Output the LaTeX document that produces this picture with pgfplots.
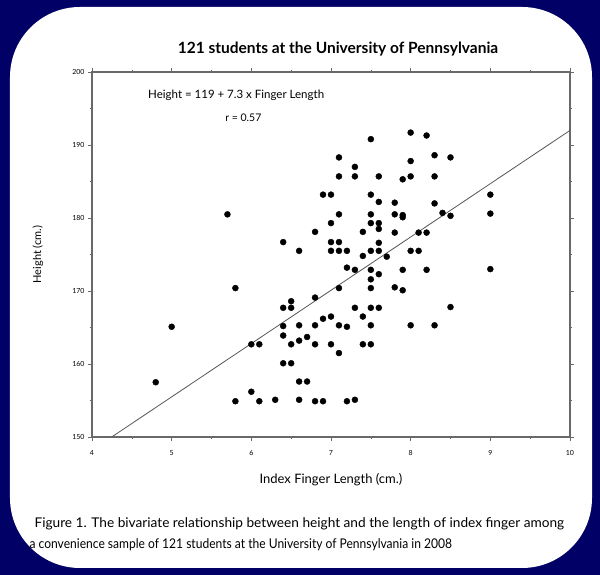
\documentclass[border=0pt]{standalone}
\usepackage{pgfplots}
\pgfplotsset{compat=1.18}
\usetikzlibrary{calc}
\usepackage{fontspec}
\setmainfont{Lato}
\definecolor{navy}{RGB}{0,0,102}
\definecolor{axisgray}{RGB}{105,105,105}
\definecolor{fitgray}{RGB}{85,85,85}
\pgfdeclarelayer{bg}
\pgfsetlayers{bg,main}

% finger length (cm) vs height (cm)
\pgfplotstableread{
x y
8.0 191.7
8.2 191.3
7.5 190.8
7.1 188.3
8.3 188.6
8.5 188.3
7.3 187.0
8.0 187.8
7.1 185.7
7.3 185.7
7.6 185.7
7.9 185.3
8.0 185.7
8.3 185.7
6.9 183.2
7.0 183.2
7.5 183.2
7.6 182.2
7.8 182.1
8.3 182.0
9.0 183.2
9.0 180.6
7.1 180.5
7.5 180.5
7.8 180.5
7.9 180.4
7.9 180.1
8.4 180.7
8.5 180.3
7.0 179.3
7.5 179.3
7.6 179.3
7.6 178.5
6.8 178.1
7.4 178.1
7.8 178.0
8.1 178.0
8.2 178.0
7.0 176.7
7.1 176.7
7.6 176.6
6.6 175.5
7.0 175.5
7.1 175.5
7.2 175.5
7.5 175.5
7.6 175.5
8.0 175.5
8.1 175.5
7.4 174.8
7.7 174.7
7.2 173.2
7.3 172.9
7.5 172.9
7.6 172.3
7.9 172.9
8.2 172.9
9.0 173.0
7.5 171.6
7.1 170.4
7.5 170.4
7.8 170.5
7.9 170.1
6.8 169.1
7.3 167.7
7.5 167.7
7.6 167.7
8.5 167.8
6.9 166.2
7.0 166.5
7.4 166.5
6.6 165.3
6.8 165.3
7.1 165.3
7.2 165.1
7.5 165.3
8.0 165.3
8.3 165.3
6.6 163.2
6.7 163.7
6.8 162.7
7.0 162.7
7.4 162.7
7.5 162.7
7.1 161.5
6.6 157.6
6.7 157.6
6.6 155.1
6.8 154.9
6.9 154.9
7.2 154.9
7.3 155.1
5.8 170.4
5.0 165.1
4.8 157.5
6.4 167.7
6.5 167.7
6.5 168.6
6.4 165.2
6.4 163.9
6.0 162.7
6.1 162.7
6.5 162.7
6.4 160.1
6.5 160.1
6.0 156.2
5.8 154.9
6.1 154.9
6.3 155.1
5.7 180.5
6.4 176.7
}\fingerdata

\begin{document}
\begin{tikzpicture}[x=1pt,y=1pt]
\begin{axis}[
  name=ax,
  scale only axis, width=478pt, height=365pt,
  xmin=4, xmax=10, ymin=150, ymax=200,
  xtick={4,5,...,10}, ytick={150,160,...,200},
  minor x tick num=1, minor y tick num=1,
  tick align=outside,
  major tick length=4pt, minor tick length=2pt,
  axis line style={draw=axisgray, line width=1.1pt},
  tick style={draw=axisgray, line width=0.6pt},
  /pgf/number format/assume math mode=true,
  ticklabel style={font=\fontsize{7}{8}\selectfont},
  xticklabel style={yshift=-6pt},
  xlabel={Index Finger Length (cm.)},
  ylabel={Height (cm.)},
  xlabel style={font=\fontsize{13}{15}\selectfont, at={(axis description cs:0.5,-0.118)}, anchor=center},
  ylabel style={font=\fontsize{11}{13}\selectfont, at={(axis description cs:-0.113,0.5)}, anchor=center},
  clip=false,
]
\addplot[fitgray, line width=0.8pt] coordinates {(4.247,150) (10,192)};
\addplot[only marks, mark=*, mark size=3pt, black] table[x=x, y=y] {\fingerdata};
\node[font=\fontsize{11.5}{13}\selectfont] at (axis cs:5.81,196.85) {Height = 119 + 7.3 x Finger Length};
\node[font=\fontsize{10.5}{12}\selectfont] at (axis cs:5.9,193.7) {r = 0.57};
\end{axis}

% page frame, title and caption, placed from the plot's lower-left corner
\coordinate (o) at ($(ax.south west)+(-92,-138)$);
\begin{pgfonlayer}{bg}
\fill[navy] (o) rectangle ($(o)+(600,575)$);
\fill[white, rounded corners=70pt] ($(o)+(10,7)$) rectangle ($(o)+(592,568)$);
\end{pgfonlayer}
\node[font=\bfseries\fontsize{15.5}{18}\selectfont] at ($(o)+(338,526)$) {121 students at the University of Pennsylvania};
\node[anchor=west, font=\fontsize{13.4}{15}\selectfont] at ($(o)+(31,51)$) {\scalebox{1.02}[1]{Figure 1. The bivariate relationship between height and the length of index finger among}};
\node[anchor=west, font=\fontsize{13.4}{15}\selectfont] at ($(o)+(26,30)$) {\scalebox{0.9}[1]{a convenience sample of 121 students at the University of Pennsylvania in 2008}};
\useasboundingbox (o) rectangle ($(o)+(600,575)$);
\end{tikzpicture}
\end{document}
